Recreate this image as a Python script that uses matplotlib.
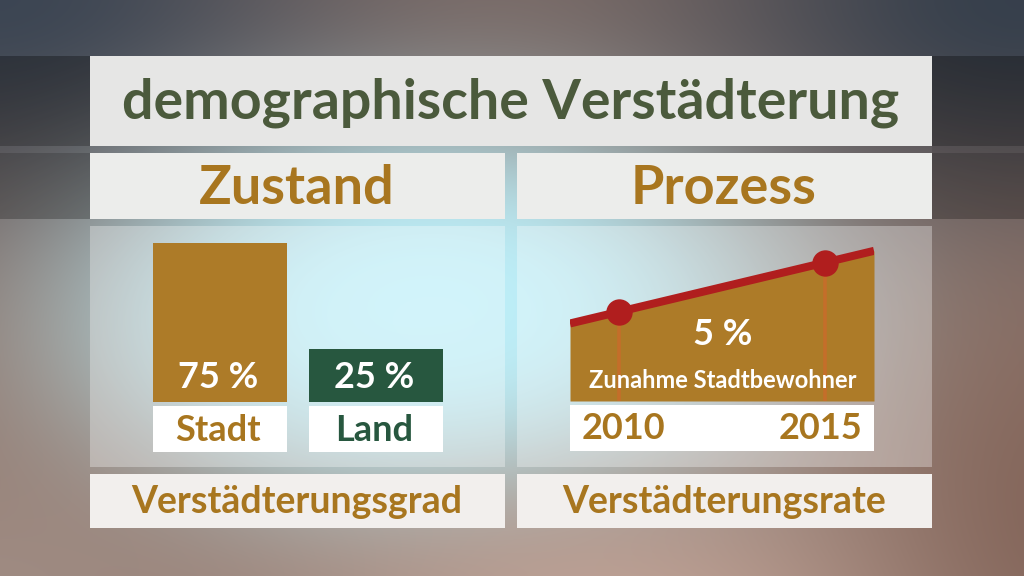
import numpy as np
import matplotlib
matplotlib.use("Agg")
import matplotlib.pyplot as plt
from matplotlib.patches import Rectangle
from matplotlib.colors import to_rgb

# ---------------- data ----------------
title = "demographische Verstädterung"
left_header = "Zustand"
right_header = "Prozess"
left_footer = "Verstädterungsgrad"
right_footer = "Verstädterungsrate"

categories = ["Stadt", "Land"]
shares = [75, 25]                      # percent
bar_colors = ["#ad7b28", "#27573f"]
label_colors = ["#a8761f", "#27573f"]

line_years = [2008.8, 2010, 2015, 2016.2]   # line runs across the whole box
urban_share = [68.8, 70, 75, 76.2]
mark_years = [2010, 2015]
mark_values = [70, 75]
increase_label = "5 %"
increase_text = "Zunahme Stadtbewohner"

FONT = "Lato"
GOLD = "#a8761f"
TITLE_GREEN = "#4b5a3c"
RED = "#b01e1e"

W, H = 1024, 576
fig = plt.figure(figsize=(W / 100, H / 100), dpi=100)
ax = fig.add_axes([0, 0, 1, 1])
ax.set_xlim(0, W)
ax.set_ylim(H, 0)
ax.axis("off")

# ---------------- background ----------------
yy, xx = np.mgrid[0:H, 0:W].astype(float)


def blob(cx, cy, sx, sy, p=1.0):
    return np.exp(-(((xx - cx) / sx) ** 2 + ((yy - cy) / sy) ** 2) ** p)


img = np.ones((H, W, 3)) * np.array(to_rgb("#92796f"))


def mix(im, color, w):
    return im * (1 - w[..., None]) + np.array(to_rgb(color)) * w[..., None]


img = mix(img, "#3a4452", blob(0, 0, 380, 210) * 0.97)
img = mix(img, "#343e4b", blob(1024, 0, 380, 210) * 0.97)
img = mix(img, "#bdeff9", blob(430, 315, 370, 210, 1.5) * 1.0)
img = mix(img, "#c6a89b", blob(620, 630, 320, 150) * 0.85)
img = mix(img, "#7e5e52", blob(1090, 520, 200, 220) * 0.75)
img = mix(img, "#a89890", blob(-40, 610, 240, 150) * 0.6)
ax.imshow(np.clip(img, 0, 1), extent=(0, W, H, 0), aspect="auto", zorder=0,
          interpolation="bilinear")

# dark band at the sides of the title / header rows
for x0, x1 in [(0, 90), (932, W)]:
    ax.add_patch(Rectangle((x0, 56), x1 - x0, 90, color="black", alpha=0.3, lw=0, zorder=1))
    ax.add_patch(Rectangle((x0, 153), x1 - x0, 66, color="black", alpha=0.25, lw=0, zorder=1))
    ax.add_patch(Rectangle((x0, 146), x1 - x0, 7, color="black", alpha=0.1, lw=0, zorder=1))


def box(a, x0, y0, x1, y1, color, alpha=1.0, z=2):
    a.add_patch(Rectangle((x0, y0), x1 - x0, y1 - y0, facecolor=color,
                          edgecolor="none", alpha=alpha, zorder=z))


# title box
box(ax, 90, 56, 932, 145.5, "#e6e6e5")
# header boxes
box(ax, 90, 153, 505, 218.5, "#ecedeb")
box(ax, 517, 153, 932, 218.5, "#ecedeb")
# content panels (translucent)
box(ax, 90, 226, 505, 466.5, "white", alpha=0.32)
box(ax, 517, 226, 932, 466.5, "white", alpha=0.32)
# footer boxes
box(ax, 90, 474, 505, 527.5, "#f2efed")
box(ax, 517, 474, 932, 527.5, "#f2efed")

# ---------------- left: bar chart ----------------
# bars span x 153..443 px, baseline at y 402 px, 75 % reaches y 243 px
bx = fig.add_axes([153 / W, (H - 402) / H, 290 / W, 159 / H])
bx.set_xlim(-0.43, 1.43)
bx.set_ylim(0, max(shares))
bx.axis("off")
bx.patch.set_alpha(0)
pos = np.arange(len(categories))
bx.bar(pos, shares, width=0.859, color=bar_colors, zorder=2)

# ---------------- right: area chart ----------------
y_bottom = 60.9
ay = fig.add_axes([570 / W, (H - 401) / H, 304 / W, 158 / H])
ay.set_xlim(line_years[0], line_years[-1])
ay.set_ylim(y_bottom, 77.0)
ay.axis("off")
ay.patch.set_alpha(0)
ay.fill_between(line_years, urban_share, y_bottom, color="#ad7b28", lw=0, zorder=1)
ay.vlines(mark_years, y_bottom, mark_values, color="#c46e2a", lw=2.6, zorder=2)
ay.plot(line_years, urban_share, color=RED, lw=5.8, solid_capstyle="butt", zorder=3)
ay.plot(mark_years, mark_values, "o", color=RED, ms=19, mec="none", zorder=4)

# ---------------- overlay for texts and label boxes ----------------
tx = fig.add_axes([0, 0, 1, 1])
tx.set_xlim(0, W)
tx.set_ylim(H, 0)
tx.axis("off")
tx.patch.set_alpha(0)

txt = dict(family=FONT, fontweight="bold", zorder=10)
tx.text(511, 118, title, fontsize=40, color=TITLE_GREEN, ha="center", va="baseline", **txt)
tx.text(297, 204, left_header, fontsize=39, color=GOLD, ha="center", va="baseline", **txt)
tx.text(724, 204, right_header, fontsize=39, color=GOLD, ha="center", va="baseline", **txt)
tx.text(297, 513, left_footer, fontsize=27, color=GOLD, ha="center", va="baseline", **txt)
tx.text(724, 513, right_footer, fontsize=27, color=GOLD, ha="center", va="baseline", **txt)

for i, (cat, val) in enumerate(zip(categories, shares)):
    cx = 220 + 156 * i
    box(tx, cx - 67, 405.5, cx + 67, 451.5, "white", z=3)
    tx.text(cx - 2, 441, cat, fontsize=26, color=label_colors[i], ha="center", va="baseline", **txt)
    tx.text(cx - 2, 388, f"{val} %", fontsize=26, color="white", ha="center", va="baseline", **txt)

box(tx, 570, 405, 874, 450.5, "white", z=3)
tx.text(582, 439, str(mark_years[0]), fontsize=26, color=GOLD, ha="left", va="baseline", **txt)
tx.text(862, 439, str(mark_years[1]), fontsize=26, color=GOLD, ha="right", va="baseline", **txt)
tx.text(723, 345, increase_label, fontsize=26, color="white", ha="center", va="baseline", **txt)
tx.text(723, 388, increase_text, fontsize=17, color="white", ha="center", va="baseline", **txt)

fig.savefig("out.png", dpi=100)
